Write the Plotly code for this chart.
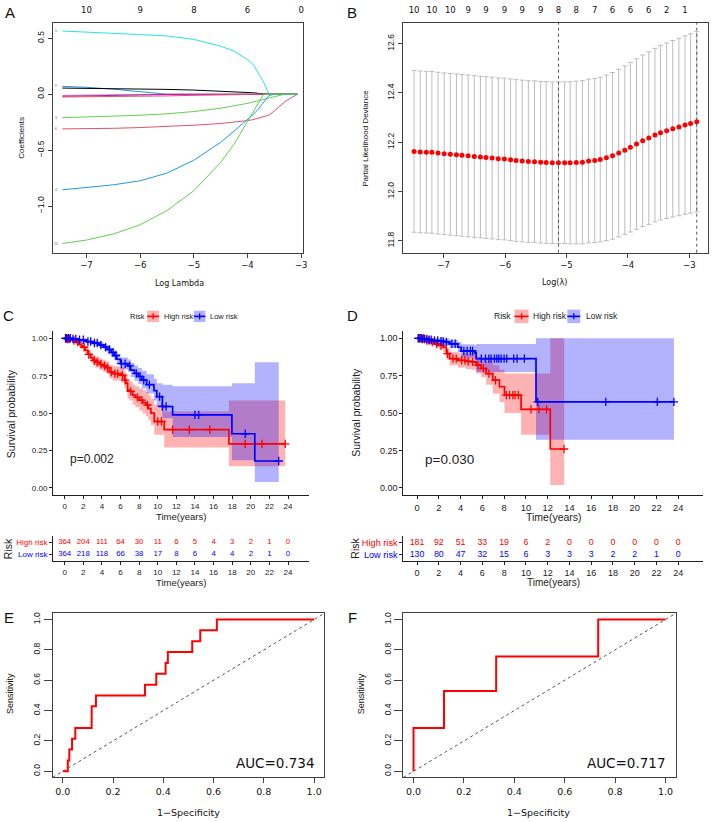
import plotly.graph_objects as go

W, H = 720, 822

# ---------------- Panel A: LASSO coefficient paths ----------------
a_loglam = [-7.45, -7.0, -6.5, -6.0, -5.5, -5.0, -4.5, -4.25, -4.0, -3.9, -3.8, -3.7, -3.6, -3.5, -3.3, -3.07]
a_cyan = [0.565, 0.553, 0.542, 0.533, 0.521, 0.49, 0.43, 0.385, 0.31, 0.27, 0.19, 0.11, 0.0, 0, 0, 0]
a_blue_big = [-0.855, -0.833, -0.81, -0.774, -0.705, -0.59, -0.43, -0.33, -0.23, -0.185, -0.134, -0.075, -0.012, 0, 0, 0]
a_green_big = [-1.335, -1.304, -1.25, -1.167, -1.04, -0.863, -0.61, -0.446, -0.244, -0.164, -0.074, 0, 0, 0, 0, 0]
a_green_small = [-0.21, -0.205, -0.198, -0.188, -0.175, -0.155, -0.125, -0.105, -0.082, -0.07, -0.057, -0.047, -0.036, -0.022, 0, 0]
a_red_big = [-0.31, -0.309, -0.305, -0.298, -0.29, -0.277, -0.262, -0.252, -0.236, -0.228, -0.215, -0.203, -0.187, -0.15, -0.065, 0]
a_black = [0.055, 0.053, 0.05, 0.047, 0.043, 0.037, 0.028, 0.023, 0.016, 0.013, 0.008, 0.003, 0, 0, 0, 0]
a_blue_small = [0.07, 0.062, 0.045, 0.025, 0, 0, 0, 0, 0, 0, 0, 0, 0, 0, 0, 0]
a_magenta = [-0.018, -0.016, -0.012, -0.007, -0.002, 0, 0, 0, 0, 0, 0, 0, 0, 0, 0, 0]
a_red_small = [-0.025, -0.024, -0.022, -0.019, -0.015, -0.01, -0.004, 0, 0, 0, 0, 0, 0, 0, 0, 0]
a_gray = [-0.01, -0.007, -0.003, 0, 0, 0, 0, 0, 0, 0, 0, 0, 0, 0, 0, 0]
a_top_vals = [-7, -6, -5, -4, -3]
a_top_text = ["10", "9", "8", "6", "0"]

# ---------------- Panel B: cross-validation ----------------
b_loglam = [-7.48, -7.38, -7.28, -7.19, -7.09, -6.99, -6.89, -6.79, -6.70, -6.60, -6.50, -6.40,
            -6.31, -6.21, -6.11, -6.01, -5.91, -5.82, -5.72, -5.62, -5.52, -5.42, -5.33, -5.23,
            -5.13, -5.03, -4.94, -4.84, -4.74, -4.64, -4.54, -4.45, -4.35, -4.25, -4.15, -4.05,
            -3.96, -3.86, -3.76, -3.66, -3.56, -3.47, -3.37, -3.27, -3.17, -3.07, -2.98, -2.88]
b_dev = [12.163, 12.161, 12.160, 12.159, 12.156, 12.153, 12.151, 12.149, 12.147, 12.145, 12.142, 12.140,
         12.138, 12.136, 12.133, 12.132, 12.129, 12.126, 12.124, 12.122, 12.121, 12.119, 12.118, 12.117,
         12.117, 12.117, 12.117, 12.118, 12.119, 12.124, 12.126, 12.130, 12.137, 12.145, 12.156, 12.168,
         12.180, 12.193, 12.206, 12.217, 12.229, 12.239, 12.247, 12.255, 12.262, 12.270, 12.276, 12.283]
b_se = [0.328, 0.328, 0.328, 0.328, 0.328, 0.328, 0.328, 0.328, 0.328, 0.328, 0.328, 0.328,
        0.328, 0.328, 0.328, 0.328, 0.328, 0.328, 0.328, 0.328, 0.328, 0.328, 0.328, 0.328,
        0.328, 0.328, 0.329, 0.330, 0.331, 0.332, 0.333, 0.334, 0.336, 0.338, 0.340, 0.342,
        0.344, 0.346, 0.348, 0.350, 0.352, 0.354, 0.356, 0.358, 0.360, 0.362, 0.364, 0.366]
b_nonzero = ["10", "10", "10", "9", "9", "9", "9", "9", "8", "8", "7", "6", "6", "6", "2", "1"]
b_lambda_min = -5.13
b_lambda_1se = -2.88

# ---------------- Panel C / D: Kaplan-Meier ----------------
c_high_t = [0, 0.3, 0.6, 0.9, 1.25, 1.5, 1.8, 1.96, 2.2, 2.5, 2.8, 3.03, 3.3, 3.74, 4.1, 4.46, 4.81, 5.17, 6.06,
            6.42, 6.6, 6.77, 7.0, 7.31, 7.6, 8.02, 8.4, 8.74, 9.0, 9.27, 9.63, 10.7, 17.65, 23.7]
c_high_s = [1.0, 0.995, 0.99, 0.985, 0.975, 0.96, 0.95, 0.94, 0.92, 0.892, 0.87, 0.852, 0.84, 0.826, 0.815, 0.804,
            0.775, 0.764, 0.753, 0.72, 0.70, 0.654, 0.645, 0.62, 0.605, 0.587, 0.57, 0.554, 0.53, 0.5, 0.444, 0.389,
            0.294, 0.294]
c_high_lo = [1.0, 0.988, 0.980, 0.972, 0.959, 0.941, 0.928, 0.916, 0.893, 0.862, 0.838, 0.818, 0.804, 0.789, 0.776,
             0.763, 0.731, 0.718, 0.705, 0.668, 0.646, 0.596, 0.585, 0.556, 0.539, 0.518, 0.498, 0.479, 0.452, 0.418,
             0.356, 0.27, 0.145, 0.145]
c_high_hi = [1.0, 1.0, 1.0, 0.998, 0.991, 0.980, 0.972, 0.964, 0.948, 0.923, 0.903, 0.888, 0.878, 0.865, 0.856,
             0.847, 0.822, 0.813, 0.804, 0.777, 0.760, 0.718, 0.711, 0.691, 0.679, 0.665, 0.652, 0.640, 0.620, 0.598,
             0.555, 0.51, 0.585, 0.585]
c_high_cens = [0.1, 0.3, 0.5, 1.0, 1.4, 2.1, 2.6, 3.2, 3.5, 3.9, 4.3, 4.6, 5.0, 5.4, 5.7, 6.2, 6.5, 7.1, 7.8, 8.3,
               8.9, 10.0, 10.4, 11.6, 13.4, 15.6, 19.4, 21.2, 23.7]

c_low_t = [0, 0.8, 1.5, 2.3, 3.0, 3.7, 4.2, 4.6, 5.0, 5.3, 5.6, 6.0, 6.8, 7.1, 7.5, 7.9, 8.3, 8.8, 9.6, 9.9, 10.5,
           11.6, 17.97, 20.43, 23.0]
c_low_s = [1.0, 0.995, 0.99, 0.978, 0.968, 0.955, 0.94, 0.925, 0.905, 0.885, 0.86, 0.83, 0.815, 0.787, 0.765, 0.745,
           0.72, 0.69, 0.65, 0.61, 0.544, 0.488, 0.362, 0.18, 0.18]
c_low_lo = [1.0, 0.99, 0.982, 0.966, 0.953, 0.937, 0.918, 0.9, 0.877, 0.853, 0.825, 0.791, 0.774, 0.742, 0.717,
            0.694, 0.665, 0.631, 0.585, 0.54, 0.465, 0.34, 0.185, 0.04, 0.04]
c_low_hi = [1.0, 1.0, 0.998, 0.99, 0.983, 0.973, 0.962, 0.951, 0.934, 0.918, 0.897, 0.871, 0.858, 0.835, 0.818,
            0.802, 0.783, 0.76, 0.73, 0.70, 0.69, 0.68, 0.70, 0.84, 0.84]
c_low_cens = [0.1, 0.2, 0.4, 0.6, 0.9, 1.2, 1.6, 2.0, 2.5, 2.8, 3.2, 3.5, 3.9, 4.4, 4.8, 5.2, 5.5, 6.1, 6.5, 7.0,
              7.7, 8.1, 8.5, 9.1, 10.2, 10.5, 10.9, 14.0, 14.4, 19.4, 23.0]

d_high_t = [0, 0.7, 1.2, 1.62, 2.0, 2.38, 2.69, 2.99, 3.75, 4.5, 4.98, 5.43, 5.89, 6.35, 6.96, 7.57, 8.03, 9.56,
            12.24, 13.52]
d_high_s = [1.0, 0.985, 0.975, 0.963, 0.952, 0.94, 0.897, 0.864, 0.853, 0.846, 0.842, 0.82, 0.798, 0.764, 0.72,
            0.676, 0.62, 0.525, 0.26, 0.26]
d_high_lo = [1.0, 0.97, 0.955, 0.94, 0.925, 0.91, 0.86, 0.82, 0.805, 0.795, 0.79, 0.765, 0.74, 0.69, 0.63, 0.575,
             0.50, 0.355, 0.02, 0.02]
d_high_hi = [1.0, 1.0, 0.995, 0.985, 0.978, 0.97, 0.935, 0.91, 0.90, 0.895, 0.895, 0.877, 0.86, 0.845, 0.82, 0.79,
             0.765, 0.765, 1.0, 1.0]
d_high_cens = [0.2, 0.4, 0.6, 0.9, 1.1, 1.4, 1.8, 2.2, 2.8, 3.3, 3.6, 4.1, 4.4, 4.7, 5.1, 5.6, 6.1, 6.6, 7.2, 8.2,
               8.5, 8.8, 9.0, 9.3, 10.47, 11.2, 11.9, 13.5]

d_low_t = [0, 0.5, 1.0, 1.5, 2.0, 2.53, 2.99, 3.75, 4.06, 5.28, 5.43, 10.93, 23.6]
d_low_s = [1.0, 0.995, 0.99, 0.985, 0.98, 0.975, 0.963, 0.94, 0.915, 0.902, 0.864, 0.575, 0.575]
d_low_lo = [1.0, 0.985, 0.975, 0.968, 0.96, 0.952, 0.935, 0.905, 0.87, 0.855, 0.775, 0.322, 0.322]
d_low_hi = [1.0, 1.0, 1.0, 1.0, 1.0, 0.998, 0.99, 0.975, 0.96, 0.952, 0.962, 1.0, 1.0]
d_low_cens = [0.1, 0.2, 0.35, 0.5, 0.7, 0.9, 1.1, 1.3, 1.6, 1.9, 2.2, 2.4, 2.7, 3.2, 3.5, 4.3, 4.6, 4.9, 5.1, 5.9,
              6.29, 6.6, 6.8, 7.11, 7.33, 7.51, 7.72, 8.0, 8.24, 8.88, 9.19, 9.86, 11.08, 17.34, 22.07, 23.6]

km_ticks = [0, 2, 4, 6, 8, 10, 12, 14, 16, 18, 20, 22, 24]
c_risk_high = [364, 204, 111, 64, 30, 11, 6, 5, 4, 3, 2, 1, 0]
c_risk_low = [364, 218, 118, 66, 38, 17, 8, 6, 4, 4, 2, 1, 0]
d_risk_high = [181, 92, 51, 33, 19, 6, 2, 0, 0, 0, 0, 0, 0]
d_risk_low = [130, 80, 47, 32, 15, 6, 3, 3, 3, 2, 2, 1, 0]
c_pval = "p=0.002"
d_pval = "p=0.030"

# ---------------- Panel E / F: ROC ----------------
e_fpr = [0, 0.02, 0.026, 0.037, 0.05, 0.115, 0.132, 0.327, 0.372, 0.409, 0.418, 0.515, 0.547, 0.613, 1.0]
e_tpr = [0, 0.071, 0.143, 0.214, 0.286, 0.429, 0.5, 0.571, 0.643, 0.714, 0.786, 0.857, 0.929, 1.0, 1.0]
e_auc = "AUC=0.734"
f_fpr = [0, 0, 0.121, 0.328, 0.733, 1.0]
f_tpr = [0, 0.286, 0.529, 0.757, 1.0, 1.0]
f_auc = "AUC=0.717"

RED = "#FF0000"
BLUE = "#0000FF"
RED_FILL = "rgba(255,0,0,0.3)"
BLUE_FILL = "rgba(0,0,255,0.3)"
R_H = "DejaVu Sans"          # horizontal text of the base-R panels (they look stretched)
R_V = "Liberation Sans"      # vertical text of the base-R panels
SANS = "Liberation Sans, Arial, sans-serif"


def fx(px):
    return px / W


def fy(py):
    return 1 - py / H


fig = go.Figure()

# ---- A traces
a_paths = [
    (a_cyan, "#28E2E5", "5"), (a_blue_small, "#2297E6", "9"), (a_black, "#000000", ""),
    (a_gray, "#9E9E9E", ""), (a_magenta, "#CD0BBC", ""), (a_red_small, "#DF536B", ""),
    (a_green_small, "#61D04F", "3"), (a_red_big, "#DF536B", "6"), (a_blue_big, "#2297E6", "4"),
    (a_green_big, "#61D04F", "10"),
]
for vals, col, _ in a_paths:
    fig.add_trace(go.Scatter(x=a_loglam, y=vals, mode="lines", line=dict(color=col, width=1),
                             xaxis="x", yaxis="y", hoverinfo="skip"))
lab_vals = [p[0][0] for p in a_paths if p[2]]
lab_txt = [p[2] for p in a_paths if p[2]]
fig.add_trace(go.Scatter(x=[a_loglam[0] - 0.12] * len(lab_vals), y=lab_vals, mode="text", text=lab_txt,
                         textfont=dict(size=4, color="#777", family=SANS), xaxis="x2", yaxis="y",
                         hoverinfo="skip"))

# ---- B traces
fig.add_trace(go.Scatter(x=b_loglam, y=b_dev, mode="markers",
                         marker=dict(color=RED, size=5, symbol="circle"),
                         error_y=dict(type="data", array=b_se, symmetric=True, color="#BDBDBD",
                                      thickness=1, width=2.5),
                         xaxis="x3", yaxis="y3", hoverinfo="skip"))
fig.add_trace(go.Scatter(x=[None], y=[None], xaxis="x4", yaxis="y3", showlegend=False))


# ---- KM helper
def surv_at(times, surv, t):
    s = surv[0]
    for ti, si in zip(times, surv):
        if ti <= t:
            s = si
    return s


def add_km_band(t, lo, hi, fill, xa, ya):
    fig.add_trace(go.Scatter(x=t, y=lo, mode="lines", line=dict(width=0, shape="hv"),
                             xaxis=xa, yaxis=ya, hoverinfo="skip"))
    fig.add_trace(go.Scatter(x=t, y=hi, mode="lines", line=dict(width=0, shape="hv"), fill="tonexty",
                             fillcolor=fill, xaxis=xa, yaxis=ya, hoverinfo="skip"))


def add_km_line(t, s, cens, color, xa, ya):
    fig.add_trace(go.Scatter(x=t, y=s, mode="lines", line=dict(color=color, width=1.7, shape="hv"),
                             xaxis=xa, yaxis=ya, hoverinfo="skip"))
    fig.add_trace(go.Scatter(x=cens, y=[surv_at(t, s, c) for c in cens], mode="markers",
                             marker=dict(symbol="cross-thin", size=6, line=dict(width=1.3, color=color)),
                             xaxis=xa, yaxis=ya, hoverinfo="skip"))


add_km_band(c_high_t, c_high_lo, c_high_hi, RED_FILL, "x5", "y5")
add_km_band(c_low_t, c_low_lo, c_low_hi, BLUE_FILL, "x5", "y5")
add_km_line(c_high_t, c_high_s, c_high_cens, RED, "x5", "y5")
add_km_line(c_low_t, c_low_s, c_low_cens, BLUE, "x5", "y5")

add_km_band(d_high_t, d_high_lo, d_high_hi, RED_FILL, "x7", "y7")
add_km_band(d_low_t, d_low_lo, d_low_hi, BLUE_FILL, "x7", "y7")
add_km_line(d_high_t, d_high_s, d_high_cens, RED, "x7", "y7")
add_km_line(d_low_t, d_low_s, d_low_cens, BLUE, "x7", "y7")

# ---- risk tables
for vals, row, col, xa, ya, fnt in [
    (c_risk_high, 1, RED, "x6", "y6", 7.8), (c_risk_low, 0, BLUE, "x6", "y6", 7.8),
    (d_risk_high, 1, RED, "x8", "y8", 8.8), (d_risk_low, 0, BLUE, "x8", "y8", 8.8)]:
    fig.add_trace(go.Scatter(x=km_ticks, y=[row] * len(km_ticks), mode="text", text=[str(v) for v in vals],
                             textfont=dict(color=col, size=fnt, family=SANS), xaxis=xa, yaxis=ya,
                             hoverinfo="skip"))

# ---- ROC
fig.add_trace(go.Scatter(x=e_fpr, y=e_tpr, mode="lines", line=dict(color=RED, width=2, shape="hv"),
                         xaxis="x9", yaxis="y9", hoverinfo="skip"))
fig.add_trace(go.Scatter(x=f_fpr, y=f_tpr, mode="lines", line=dict(color=RED, width=2, shape="hv"),
                         xaxis="x10", yaxis="y10", hoverinfo="skip"))

# ---------------- axes ----------------
LINE = "#404040"


def r_axis(**kw):
    d = dict(showline=True, linecolor=LINE, linewidth=1, mirror=True, ticks="outside", ticklen=4,
             tickcolor=LINE, showgrid=False, zeroline=False,
             tickfont=dict(family=R_H, size=8.5, color="#111"))
    d.update(kw)
    return d


def gg_axis(**kw):
    d = dict(showline=True, linecolor="#222", linewidth=1, mirror=False, ticks="outside", ticklen=3,
             tickcolor="#222", showgrid=False, zeroline=False,
             tickfont=dict(family=SANS, size=8, color="#222"))
    d.update(kw)
    return d


A_X = [fx(53), fx(305)]
AB_Y = [fy(252), fy(22)]
B_X = [fx(405), fx(712)]
C_X = [fx(53.3), fx(310.7)]
D_X = [fx(405.7), fx(706.7)]
KM_Y = [fy(495), fy(330.2)]
TAB_Y = [fy(560.7), fy(535.3)]
E_X = [fx(53), fx(326)]
F_X = [fx(405.7), fx(679.3)]
EF_Y = [fy(777.3), fy(613.2)]

km_y_ticks = [0, 0.25, 0.5, 0.75, 1.0]
risk_rows = ['<span style="color:#FF0000">High risk</span>', '<span style="color:#0000FF">Low risk</span>']

fig.update_layout(
    width=W, height=H, margin=dict(l=0, r=0, t=0, b=0), paper_bgcolor="white", plot_bgcolor="white",
    showlegend=False,
    xaxis=r_axis(domain=A_X, anchor="y", range=[-7.63, -2.96], tickvals=a_top_vals),
    yaxis=r_axis(domain=AB_Y, anchor="x", range=[-1.417, 0.637], tickvals=[-1.0, -0.5, 0.0, 0.5],
                 ticktext=["\u22121.0", "\u22120.5", "0.0", "0.5"], tickangle=-90,
                 tickfont=dict(family=R_V, size=8.5, color="#111")),
    xaxis2=dict(overlaying="x", side="top", anchor="y", range=[-7.63, -2.96], tickvals=a_top_vals,
                ticktext=a_top_text, ticks="outside", ticklen=6, tickcolor="rgba(0,0,0,0)",
                showline=False, showgrid=False, zeroline=False,
                tickfont=dict(family=R_H, size=8.5, color="#111")),
    xaxis3=r_axis(domain=B_X, anchor="y3", range=[-7.664, -2.696], tickvals=[-7, -6, -5, -4, -3]),
    yaxis3=r_axis(domain=AB_Y, anchor="x3", range=[11.752, 12.684], tickvals=[11.8, 12.0, 12.2, 12.4, 12.6],
                  tickformat=".1f", tickangle=-90, tickfont=dict(family=R_V, size=8.5, color="#111")),
    xaxis4=dict(overlaying="x3", side="top", anchor="y3", range=[-7.664, -2.696], tickvals=b_loglam[::3],
                ticktext=b_nonzero, ticks="outside", ticklen=6, tickcolor="rgba(0,0,0,0)",
                showline=False, showgrid=False, zeroline=False,
                tickfont=dict(family=R_H, size=8.5, color="#111")),
    xaxis5=gg_axis(domain=C_X, anchor="y5", range=[-1.25, 26.25], tickvals=km_ticks),
    yaxis5=gg_axis(domain=KM_Y, anchor="x5", range=[-0.05, 1.05], tickvals=km_y_ticks, tickformat=".2f"),
    xaxis6=gg_axis(domain=C_X, anchor="y6", range=[-1.25, 26.25], tickvals=km_ticks),
    yaxis6=gg_axis(domain=TAB_Y, anchor="x6", range=[-0.56, 1.56], tickvals=[1, 0], ticktext=risk_rows,
                   tickfont=dict(family=SANS, size=8)),
    xaxis7=gg_axis(domain=D_X, anchor="y7", range=[-1.25, 26.25], tickvals=km_ticks,
                   tickfont=dict(family=SANS, size=9.3, color="#222")),
    yaxis7=gg_axis(domain=KM_Y, anchor="x7", range=[-0.05, 1.05], tickvals=km_y_ticks, tickformat=".2f",
                   tickfont=dict(family=SANS, size=9, color="#222")),
    xaxis8=gg_axis(domain=D_X, anchor="y8", range=[-1.25, 26.25], tickvals=km_ticks,
                   tickfont=dict(family=SANS, size=9, color="#222")),
    yaxis8=gg_axis(domain=TAB_Y, anchor="x8", range=[-0.56, 1.56], tickvals=[1, 0], ticktext=risk_rows,
                   tickfont=dict(family=SANS, size=9.2)),
    xaxis9=r_axis(domain=E_X, anchor="y9", range=[-0.04, 1.04], tickvals=[0, 0.2, 0.4, 0.6, 0.8, 1.0],
                  tickformat=".1f", ticklen=5, tickfont=dict(family=R_H, size=9.5, color="#111")),
    yaxis9=r_axis(domain=EF_Y, anchor="x9", range=[-0.04, 1.04], tickvals=[0, 0.2, 0.4, 0.6, 0.8, 1.0],
                  tickformat=".1f", ticklen=8, tickangle=-90, tickfont=dict(family=R_V, size=8.5, color="#111")),
    xaxis10=r_axis(domain=F_X, anchor="y10", range=[-0.04, 1.04], tickvals=[0, 0.2, 0.4, 0.6, 0.8, 1.0],
                   tickformat=".1f", ticklen=5, tickfont=dict(family=R_H, size=9.5, color="#111")),
    yaxis10=r_axis(domain=EF_Y, anchor="x10", range=[-0.04, 1.04], tickvals=[0, 0.2, 0.4, 0.6, 0.8, 1.0],
                   tickformat=".1f", ticklen=8, tickangle=-90, tickfont=dict(family=R_V, size=8.5, color="#111")),
)

# ---------------- reference lines ----------------
shapes = []
for xv in [b_lambda_min, b_lambda_1se]:
    shapes.append(dict(type="line", xref="x3", yref="y3 domain", x0=xv, x1=xv, y0=0, y1=1,
                       line=dict(color="#555", width=1, dash="dot")))
for ax in ["9", "10"]:
    shapes.append(dict(type="line", xref="x%s domain" % ax, yref="y%s domain" % ax, x0=0, y0=0, x1=1, y1=1,
                       line=dict(color="#555", width=1, dash="dot")))


# legend keys for the KM panels (decoration only)
def legend_key(x0, x1, y0, y1, col, fill):
    ym = (y0 + y1) / 2
    xm = (x0 + x1) / 2
    shapes.append(dict(type="rect", xref="paper", yref="paper", x0=fx(x0), x1=fx(x1), y0=fy(y1), y1=fy(y0),
                       fillcolor=fill, line=dict(width=0)))
    shapes.append(dict(type="line", xref="paper", yref="paper", x0=fx(x0), x1=fx(x1), y0=fy(ym), y1=fy(ym),
                       line=dict(color=col, width=1.6)))
    shapes.append(dict(type="line", xref="paper", yref="paper", x0=fx(xm), x1=fx(xm), y0=fy(ym + 3),
                       y1=fy(ym - 3), line=dict(color=col, width=1.3)))


legend_key(148, 160, 310, 321.5, RED, RED_FILL)
legend_key(195, 206.5, 310, 321.5, BLUE, BLUE_FILL)
legend_key(517.5, 531.5, 309, 322.5, RED, RED_FILL)
legend_key(570.5, 583.5, 309, 322.5, BLUE, BLUE_FILL)
fig.update_layout(shapes=shapes)

# ---------------- annotations ----------------
anns = []


def ann(text, x, y, size, family, color="#111", angle=0, xanchor="center"):
    anns.append(dict(text=text, x=fx(x), y=fy(y), xref="paper", yref="paper", showarrow=False,
                     font=dict(size=size, family=family, color=color), textangle=angle,
                     xanchor=xanchor, yanchor="middle"))


for letter, x, y in [("A", 10, 12), ("B", 353.5, 12), ("C", 9, 315), ("D", 354.5, 315),
                     ("E", 8.7, 617), ("F", 354.7, 617)]:
    ann(letter, x, y, 15, SANS, "#111")

ann("Log Lambda", 180, 283, 8, R_H)
ann("Coefficients", 22, 137, 8, R_V, angle=-90)
ann("Log(\u03bb)", 558, 282, 8, R_H)
ann("Partial Likelihood Deviance", 368, 137, 8, R_V, angle=-90)

ann("Survival probability", 11.7, 413, 10.5, SANS, "#222", angle=-90)
ann("Time(years)", 181.7, 516.5, 9.5, SANS, "#222")
ann("Risk", 8, 548, 10.5, SANS, "#222", angle=-90)
ann("Time(years)", 181.7, 582, 9.5, SANS, "#222")
ann(c_pval, 68, 459, 12, SANS, "#222", xanchor="left")
ann("Risk", 138, 315.7, 7.5, SANS, "#222")
ann("High risk", 163, 315.7, 7.5, SANS, "#222", xanchor="left")
ann("Low risk", 209.5, 315.7, 7.5, SANS, "#222", xanchor="left")

ann("Survival probability", 358.3, 412, 10.5, SANS, "#222", angle=-90)
ann("Time(years)", 556.7, 516.5, 10.5, SANS, "#222")
ann("Risk", 357.3, 548, 10.5, SANS, "#222", angle=-90)
ann("Time(years)", 556.7, 582.5, 10, SANS, "#222")
ann(d_pval, 425, 459, 13.5, SANS, "#222", xanchor="left")
ann("Risk", 505.5, 315.7, 8.5, SANS, "#222")
ann("High risk", 534, 315.7, 8.5, SANS, "#222", xanchor="left")
ann("Low risk", 587, 315.7, 8.5, SANS, "#222", xanchor="left")

ann("Sensitivity", 10, 693, 9, R_V, angle=-90)
ann("1\u2212Specificity", 189.5, 812, 9.5, R_H)
ann(e_auc, 318.5, 763.3, 13.5, R_H, xanchor="right")
ann("Sensitivity", 363, 693, 9, R_V, angle=-90)
ann("1\u2212Specificity", 541.7, 812, 9.5, R_H)
ann(f_auc, 671.7, 763.3, 13.5, R_H, xanchor="right")

fig.update_layout(annotations=anns)

fig.write_html("out.html", config={"displayModeBar": False},
               post_script="document.body.style.margin='0px';document.body.style.padding='0px';")
